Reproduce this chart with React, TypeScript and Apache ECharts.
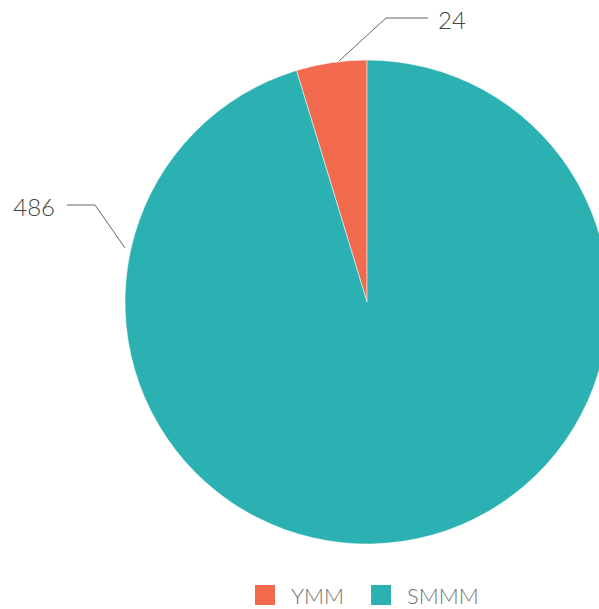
import React, { useEffect, useRef } from "react";
import * as echarts from "echarts";

const categories = ["YMM", "SMMM"];
const values = [24, 486];
const colors = ["#f26a4d", "#2cb1b3"];

// label placement (pixels): leader line points and text anchor
const labelLines: number[][][] = [
  [[339, 61], [386, 18], [428, 18]],
  [[125, 248], [95, 205], [67, 205]],
];
const labelAnchors = [
  { x: 438, y: 19, align: "left" },
  { x: 55, y: 206, align: "right" },
];

export default function App() {
  const ref = useRef<HTMLDivElement>(null);
  useEffect(() => {
    document.body.style.margin = "0";
    const chart = echarts.init(ref.current!, null, { renderer: "svg" });
    chart.setOption({
      animation: false,
      color: colors,
      legend: {
        data: categories,
        left: 248,
        bottom: -3,
        itemWidth: 22,
        itemHeight: 22,
        itemGap: 25,
        icon: "rect",
        textStyle: {
          fontFamily: "Lato",
          fontWeight: 300,
          fontSize: 22,
          color: "#707070",
          padding: [0, 0, 0, 10],
        },
      },
      series: [
        {
          type: "pie",
          center: [367, 302],
          radius: 242,
          startAngle: 90,
          clockwise: false,
          itemStyle: { borderColor: "#fff", borderWidth: 0.5 },
          label: {
            show: true,
            position: "outside",
            formatter: "{c}",
            fontFamily: "Lato",
            fontWeight: 300,
            fontSize: 24,
            color: "#444",
          },
          labelLine: {
            show: true,
            lineStyle: { color: "#666", width: 1 },
          },
          labelLayout: (params: any) => {
            const i = params.dataIndex;
            return {
              x: labelAnchors[i].x,
              y: labelAnchors[i].y,
              align: labelAnchors[i].align,
              verticalAlign: "middle",
              labelLinePoints: labelLines[i],
            };
          },
          data: categories.map((c, i) => ({ name: c, value: values[i] })),
        },
      ],
    });
    return () => chart.dispose();
  }, []);
  return <div ref={ref} style={{ width: 599, height: 609 }} />;
}
